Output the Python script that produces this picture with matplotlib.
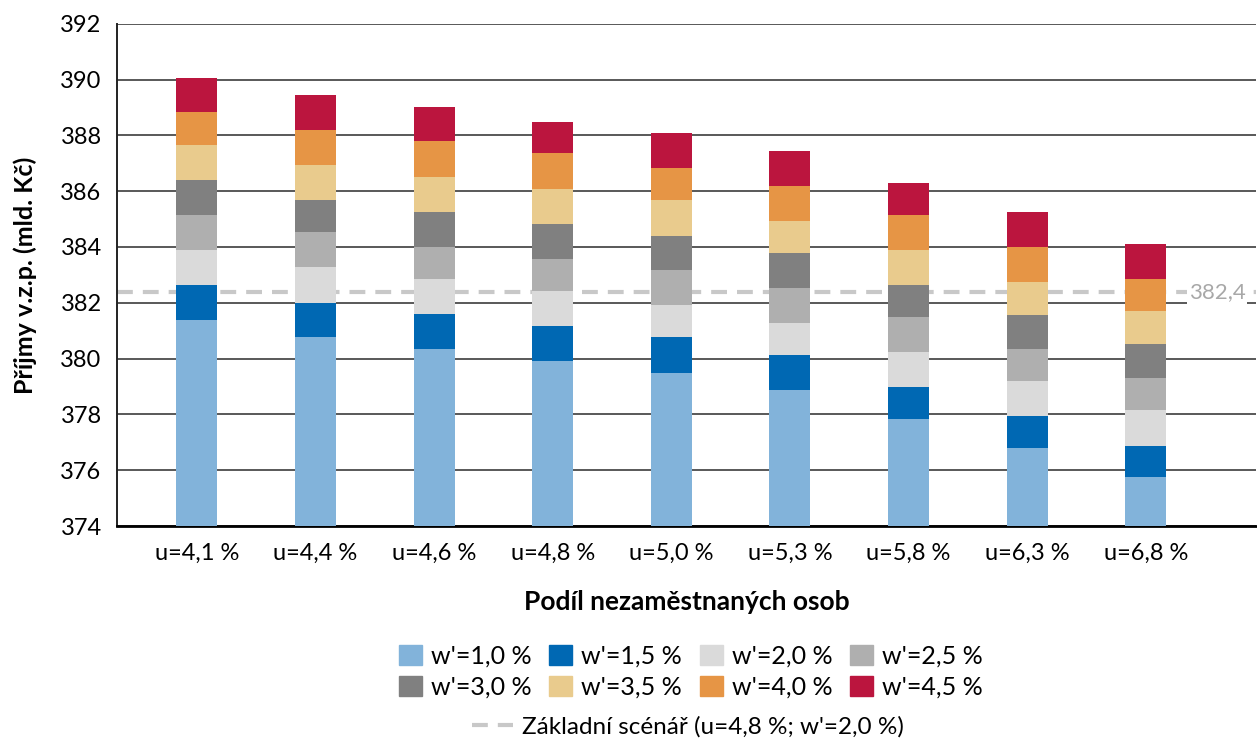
import matplotlib.pyplot as plt
import matplotlib.patches as mpatches
from matplotlib.lines import Line2D
import numpy as np

plt.rcParams['font.family'] = ['Lato', 'DejaVu Sans']

# unemployment scenarios (x categories)
categories = ["u=4,1 %", "u=4,4 %", "u=4,6 %", "u=4,8 %", "u=5,0 %",
              "u=5,3 %", "u=5,8 %", "u=6,3 %", "u=6,8 %"]

# cumulative income level (bln CZK) for each wage growth scenario
w10 = [381.39, 380.77, 380.35, 379.92, 379.50, 378.88, 377.84, 376.80, 375.75]
w15 = [382.64, 382.01, 381.59, 381.17, 380.76, 380.12, 378.98, 377.93, 376.88]
w20 = [383.90, 383.28, 382.86, 382.43, 381.92, 381.28, 380.24, 379.20, 378.15]
w25 = [385.16, 384.53, 384.01, 383.58, 383.17, 382.54, 381.50, 380.35, 379.31]
w30 = [386.40, 385.67, 385.25, 384.83, 384.40, 383.78, 382.64, 381.58, 380.54]
w35 = [387.67, 386.94, 386.52, 386.09, 385.70, 384.94, 383.90, 382.75, 381.71]
w40 = [388.82, 388.19, 387.78, 387.35, 386.82, 386.20, 385.16, 384.01, 382.86]
w45 = [390.07, 389.45, 389.02, 388.49, 388.09, 387.45, 386.30, 385.25, 384.12]

series = [w10, w15, w20, w25, w30, w35, w40, w45]
series_labels = ["w'=1,0 %", "w'=1,5 %", "w'=2,0 %", "w'=2,5 %",
                 "w'=3,0 %", "w'=3,5 %", "w'=4,0 %", "w'=4,5 %"]
colors = ["#82B3DA", "#0068B3", "#DADADA", "#AFAFAF",
          "#808080", "#E9CB8D", "#E69545", "#BB153E"]

baseline = 382.4
baseline_label = "Základní scénář (u=4,8 %; w'=2,0 %)"
dash = (0, (3.8, 2.4))

fig = plt.figure(figsize=(12.57, 7.4), dpi=100)
ax = fig.add_axes([0.093, 0.289, 0.906, 0.679])

x = np.arange(len(categories))
prev = np.zeros(len(categories))
for vals, col in zip(series, colors):
    vals = np.array(vals)
    ax.bar(x, vals - prev, bottom=prev, width=0.345, color=col, zorder=3)
    prev = vals

# baseline scenario (drawn behind the bars)
ax.axhline(baseline, color="#C8C8C8", lw=3, linestyle=dash, zorder=2.5)
ax.text(8.6, baseline, "382,4", color="#A8A8A8", fontsize=16, ha="center", va="center",
        zorder=5, bbox=dict(facecolor="white", edgecolor="none", pad=1.5))

ax.set_ylim(374, 392)
ax.set_xlim(-0.674, 8.927)
ax.set_yticks(np.arange(374, 393, 2))
ax.set_xticks(x)
ax.set_xticklabels(categories)
ax.tick_params(axis="both", length=0, labelsize=17, colors="black")
ax.tick_params(axis="x", pad=12)
ax.tick_params(axis="y", pad=11)
ax.grid(axis="y", color="#3c3c3c", lw=1.2, zorder=0)
ax.set_axisbelow(True)
for s in ["top", "right"]:
    ax.spines[s].set_visible(False)
ax.spines["left"].set_color("#222222")
ax.spines["left"].set_linewidth(1.4)
ax.spines["bottom"].set_color("black")
ax.spines["bottom"].set_linewidth(2)

ax.set_ylabel("Příjmy v.z.p. (mld. Kč)", fontsize=18, fontweight="bold")
ax.yaxis.set_label_coords(-0.07, 0.5)
ax.set_xlabel("Podíl nezaměstnaných osob", fontsize=19, fontweight="bold")
ax.xaxis.set_label_coords(0.5, -0.128)

# legend: 2 rows x 4 columns, filled row-wise
patches = [mpatches.Patch(color=c, label=l) for c, l in zip(colors, series_labels)]
order = [0, 4, 1, 5, 2, 6, 3, 7]
fig.legend([patches[i] for i in order], [series_labels[i] for i in order],
           ncol=4, loc="center", bbox_to_anchor=(0.5497, 0.0926), frameon=False,
           fontsize=18, handlelength=0.92, handleheight=0.88, columnspacing=0.7,
           handletextpad=0.36, labelspacing=0.32, borderpad=0)
line_handle = Line2D([0], [0], color="#C8C8C8", lw=3, linestyle=dash)
fig.legend([line_handle], [baseline_label], loc="center", bbox_to_anchor=(0.547, 0.0176),
           frameon=False, fontsize=17.5, handlelength=1.7, handletextpad=0.36, borderpad=0)

fig.savefig("out.png", dpi=100)
